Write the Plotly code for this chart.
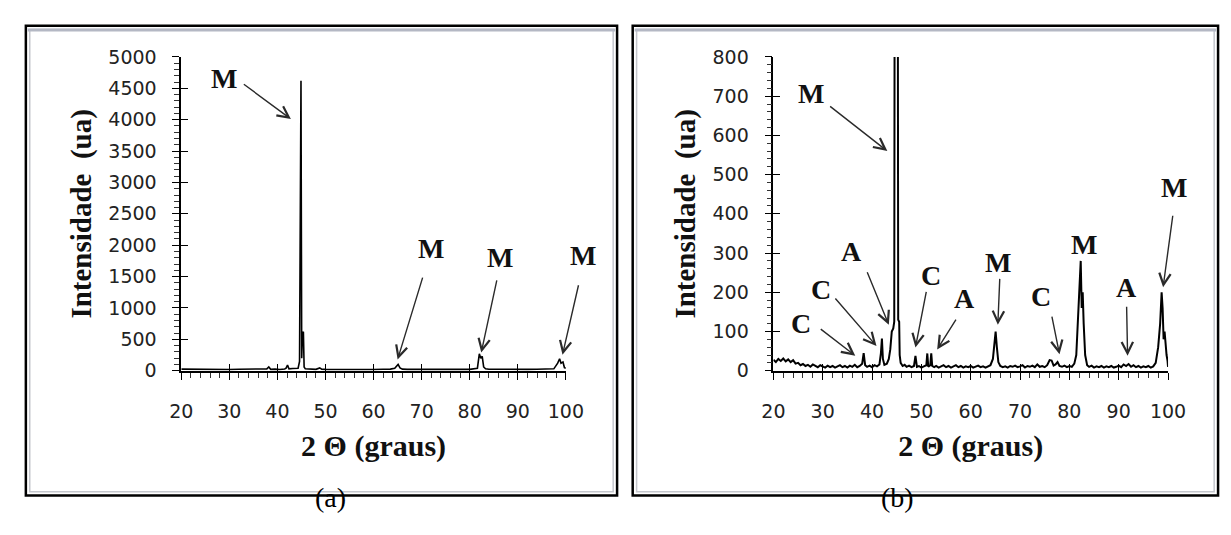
import plotly.graph_objects as go

# ---------------- data: panel (a) ----------------
xa = [20, 22, 24, 26, 28, 30, 32, 34, 35, 36, 37, 37.8, 38.2, 38.6, 39.5, 40.5, 41.5,
      41.8, 42.1, 42.4, 43.2, 44.3, 44.6, 44.8, 44.9, 45.05, 45.2, 45.4, 45.55, 45.8,
      46.4, 47, 48, 48.8, 49.2, 50, 52, 54, 56, 58, 60, 62, 63.5, 64.4, 64.8, 65.1, 65.5,
      66, 67, 70, 72, 74, 76, 78, 80, 81.6, 82.0, 82.3, 82.6, 82.9, 83.3, 84, 86, 88,
      90, 92, 94, 96, 97.5, 98.3, 98.7, 99.0, 99.4, 99.7, 100]
ya = [25, 22, 26, 21, 24, 20, 23, 22, 25, 20, 24, 30, 60, 22, 25, 20, 28,
      40, 90, 30, 35, 40, 150, 3000, 4620, 200, 600, 620, 60, 30,
      25, 30, 22, 45, 25, 22, 20, 24, 21, 22, 20, 23, 25, 40, 80, 100, 45,
      25, 22, 20, 24, 21, 23, 25, 22, 40, 270, 200, 230, 60, 30, 24, 21, 23,
      20, 22, 24, 21, 30, 120, 190, 120, 140, 50, 40]

# ---------------- data: panel (b) ----------------
xb = [20, 20.5, 21, 21.5, 22, 22.5, 23, 23.5, 24, 24.5, 25, 25.5, 26, 26.5, 27, 27.5,
      28, 28.5, 29, 29.5, 30, 30.5, 31, 31.5, 32, 32.5, 33, 33.5, 34, 34.5, 35, 35.5,
      36, 36.5, 37, 37.5, 38.0, 38.3, 38.6, 39, 39.5, 40, 40.5, 41, 41.5, 41.8, 42.0,
      42.2, 42.5, 43, 43.4, 43.7, 44.0, 44.3, 44.5, 44.9, 45.3, 45.5, 45.6, 45.8, 46.2,
      46.6, 47, 47.5, 48, 48.5, 48.8, 49.1, 49.5, 50, 50.5, 51.0, 51.2, 51.4, 51.8, 52.0,
      52.2, 52.6, 53, 53.5, 54, 54.5, 55, 55.5, 56, 56.5, 57, 57.5, 58, 58.5, 59, 59.5,
      60, 60.5, 61, 61.5, 62, 62.5, 63, 63.5, 64, 64.5, 64.8, 65.05, 65.3, 65.6, 66,
      66.5, 67, 67.5, 68, 68.5, 69, 69.5, 70, 70.5, 71, 71.5, 72, 72.5, 73, 73.5, 74,
      74.5, 75, 75.5, 76.0, 76.4, 76.8, 77.2, 77.6, 78, 78.5, 79, 79.5, 80, 80.5, 81,
      81.4, 81.7, 82.0, 82.3, 82.5, 82.7, 82.9, 83.2, 83.6, 84, 84.5, 85, 85.5, 86, 86.5,
      87, 87.5, 88, 88.5, 89, 89.5, 90, 90.5, 91, 91.5, 92, 92.5, 93, 93.5, 94, 94.5,
      95, 95.5, 96, 96.5, 97, 97.5, 98, 98.4, 98.7, 98.9, 99.1, 99.3, 99.5, 99.7, 99.9,
      100]
yb = [28, 22, 30, 25, 31, 24, 29, 22, 27, 18, 20, 14, 17, 12, 15, 10,
      16, 12, 9, 14, 11, 8, 13, 9, 12, 8, 11, 14, 9, 12, 8, 13,
      10, 15, 9, 12, 18, 45, 14, 10, 13, 9, 14, 11, 16, 45, 82,
      30, 15, 18, 30, 55, 100, 108, 125, 4600, 130, 125, 40, 20, 12,
      15, 10, 13, 9, 12, 38, 10, 12, 8, 11, 14, 44, 10, 14, 44,
      12, 9, 12, 8, 11, 14, 9, 12, 8, 11, 14, 9, 12, 8, 11, 9,
      12, 8, 10, 13, 9, 11, 8, 12, 14, 30, 70, 100, 60, 22, 12,
      9, 11, 8, 12, 10, 13, 9, 11, 14, 8, 12, 10, 13, 9, 16, 10,
      12, 9, 14, 27, 26, 13, 16, 22, 12, 10, 13, 9, 12, 10, 18,
      40, 120, 200, 280, 160, 200, 120, 40, 14, 10, 13, 8, 11, 9, 12,
      8, 11, 9, 12, 8, 10, 13, 9, 16, 12, 17, 10, 14, 9, 12, 8,
      11, 9, 12, 8, 11, 20, 60, 120, 200, 160, 80, 100, 60, 40, 25,
      10]

# ---------------- peak labels ----------------
lab_a = ["M", "M", "M", "M"]
lab_a_x = [28.8, 71.9, 86.4, 103.4]
lab_a_y = [4660, 1950, 1800, 1830]
arr_a_head_x = [42.8, 65.0, 82.4, 99.3]
arr_a_head_y = [4010, 180, 290, 256]
arr_a_tail_x = [32.7, 70.3, 85.7, 102.7]
arr_a_tail_y = [4583, 1508, 1462, 1386]

lab_b = ["M", "A", "C", "C", "C", "A", "M", "C", "M", "A", "M"]
lab_b_x = [27.7, 35.9, 29.6, 25.5, 52.0, 58.8, 65.5, 74.3, 82.9, 91.6, 101.2]
lab_b_y = [708, 304, 207, 121, 243, 184, 276, 188, 322, 211, 468]
arr_b_head_x = [43.1, 43.4, 40.9, 36.6, 48.8, 53.2, 65.5, 78.0, None, 91.8, 99.0]
arr_b_head_y = [560, 117, 63, 38, 59, 54, 117, 42, None, 38, 213]
arr_b_tail_x = [31.2, 38.9, 32.3, 29.3, 51.05, 57.2, 65.9, 76.4, None, 91.6, 101.0]
arr_b_tail_y = [677, 255, 188, 109, 205, 134, 238, 142, None, 167, 399]

x_title = "<b>2 Θ (graus)</b>"
y_title = "<b>Intensidade&nbsp;&nbsp;(ua)</b>"

W, H = 1231, 535
TICKFONT = dict(family="DejaVu Sans", size=19, color="#222222")
XTITLEFONT = dict(family="Liberation Serif", size=30, color="#111111")
YTITLEFONT = dict(family="Liberation Serif", size=29, color="#111111")
LABFONT = dict(family="Liberation Serif", size=28, color="#111111")
XMAX = 100

fig = go.Figure()
fig.add_trace(go.Scatter(x=xa, y=ya, mode="lines", line=dict(color="black", width=1.6),
                         xaxis="x", yaxis="y", showlegend=False, hoverinfo="skip"))
fig.add_trace(go.Scatter(x=xb, y=yb, mode="lines", line=dict(color="black", width=2.0),
                         xaxis="x2", yaxis="y2", showlegend=False, hoverinfo="skip"))
# empty traces for overlay tick axes (cross ticks)
fig.add_trace(go.Scatter(x=[], y=[], xaxis="x3", yaxis="y3", showlegend=False))
fig.add_trace(go.Scatter(x=[], y=[], xaxis="x4", yaxis="y4", showlegend=False))

ydom = [0.3144, 0.926]
xdomA = [0.1343, 0.4545]
xdomB = [0.6273, 0.9559]
pxA = (xdomA[1] - xdomA[0]) * W / 80.0
pxB = (xdomB[1] - xdomB[0]) * W / 80.0


def xaxis(dom, anchor):
    return dict(domain=dom, anchor=anchor, range=[20, 100], tick0=20, dtick=10,
                showline=True, linecolor="black", linewidth=1.6, showgrid=False,
                zeroline=False, ticks="outside", ticklen=7, tickwidth=1.4,
                tickcolor="black", tickfont=TICKFONT, ticklabelstandoff=16,
                minor=dict(dtick=2, ticks="outside", ticklen=5, tickwidth=1.2,
                           tickcolor="#333333", showgrid=False),
                title=dict(text=x_title, font=XTITLEFONT, standoff=14))


def yaxis(dom, anchor, rng, dt, mdt):
    return dict(domain=dom, anchor=anchor, range=rng, tick0=0, dtick=dt,
                showline=True, linecolor="black", linewidth=1.6, showgrid=False,
                zeroline=False, ticks="outside", ticklen=7, tickwidth=1.4,
                tickcolor="black", tickfont=TICKFONT, ticklabelstandoff=12,
                minor=dict(dtick=mdt, ticks="outside", ticklen=5, tickwidth=1.2,
                           tickcolor="#333333", showgrid=False),
                title=dict(text=y_title, font=YTITLEFONT, standoff=8))


def over_x(base, anchor):
    return dict(overlaying=base, anchor=anchor, range=[20, 100], tick0=20, dtick=10,
                ticks="inside", ticklen=7, tickwidth=1.4, tickcolor="black",
                showticklabels=False, showline=False, showgrid=False, zeroline=False)


def over_y(base, anchor, rng, dt):
    return dict(overlaying=base, anchor=anchor, range=rng, tick0=0, dtick=dt,
                ticks="inside", ticklen=7, tickwidth=1.4, tickcolor="black",
                showticklabels=False, showline=False, showgrid=False, zeroline=False)


fig.update_layout(
    width=W, height=H, margin=dict(l=0, r=0, t=0, b=0),
    paper_bgcolor="white", plot_bgcolor="white",
    xaxis=xaxis(xdomA, "y"),
    yaxis=yaxis(ydom, "x", [0, 5000], 500, 100),
    xaxis2=xaxis(xdomB, "y2"),
    yaxis2=yaxis(ydom, "x2", [0, 800], 100, 20),
    xaxis3=over_x("x", "y3"),
    yaxis3=over_y("y", "x3", [0, 5000], 500),
    xaxis4=over_x("x2", "y4"),
    yaxis4=over_y("y2", "x4", [0, 800], 100),
)


def label(t, x, y, xr, yr, px):
    # labels beyond the axis range are anchored at the range end and shifted in pixels
    shift = 0
    if x > XMAX:
        shift = (x - XMAX) * px
        x = XMAX
    return dict(text="<b>%s</b>" % t, x=x, y=y, xref=xr, yref=yr, xshift=shift,
                showarrow=False, font=LABFONT)


annotations = []
for t, x, y in zip(lab_a, lab_a_x, lab_a_y):
    annotations.append(label(t, x, y, "x", "y", pxA))
for hx, hy, tx, ty in zip(arr_a_head_x, arr_a_head_y, arr_a_tail_x, arr_a_tail_y):
    annotations.append(dict(text="", x=hx, y=hy, ax=tx, ay=ty, xref="x", yref="y",
                            axref="x", ayref="y", showarrow=True, arrowhead=5,
                            arrowsize=1.6, arrowwidth=1.4, arrowcolor="#2a2a2a"))
for t, x, y in zip(lab_b, lab_b_x, lab_b_y):
    annotations.append(label(t, x, y, "x2", "y2", pxB))
for hx, hy, tx, ty in zip(arr_b_head_x, arr_b_head_y, arr_b_tail_x, arr_b_tail_y):
    if hx is None:
        continue
    annotations.append(dict(text="", x=hx, y=hy, ax=tx, ay=ty, xref="x2", yref="y2",
                            axref="x2", ayref="y2", showarrow=True, arrowhead=5,
                            arrowsize=1.6, arrowwidth=1.4, arrowcolor="#2a2a2a"))

# panel captions
CAPFONT = dict(family="Liberation Serif", size=28, color="black")
annotations.append(dict(text="(a)", x=300 / W, y=1 - 517 / H, xref="paper", yref="paper",
                        showarrow=False, font=CAPFONT))
annotations.append(dict(text="(b)", x=918 / W, y=1 - 517 / H, xref="paper", yref="paper",
                        showarrow=False, font=CAPFONT))
fig.update_layout(annotations=annotations)

# frames
shapes = []
for x0, x1 in [(6, 612), (628, 1228)]:
    shapes.append(dict(type="rect", xref="paper", yref="paper",
                       x0=(x0 + 4) / W, x1=(x1 - 4) / W, y0=1 - 493 / H, y1=1 - 11 / H,
                       line=dict(color="#c4c6cc", width=1.5), fillcolor="rgba(0,0,0,0)"))
    shapes.append(dict(type="line", xref="paper", yref="paper",
                       x0=(x0 + 2) / W, x1=(x1 - 2) / W, y0=1 - 11.5 / H, y1=1 - 11.5 / H,
                       line=dict(color="#b4b8c4", width=3)))
    shapes.append(dict(type="rect", xref="paper", yref="paper",
                       x0=x0 / W, x1=x1 / W, y0=1 - 497 / H, y1=1 - 7 / H,
                       line=dict(color="black", width=2.5), fillcolor="rgba(0,0,0,0)"))
fig.update_layout(shapes=shapes)

fig.write_html("out.html")
